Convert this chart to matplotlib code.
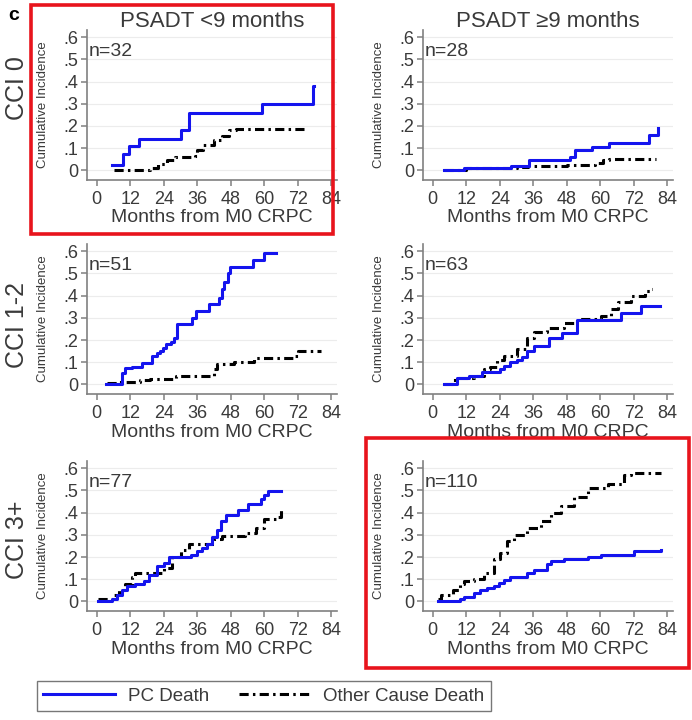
import matplotlib
matplotlib.use("Agg")
import matplotlib.pyplot as plt
from matplotlib.patches import Rectangle

plt.rcParams['font.family'] = ['Liberation Sans', 'DejaVu Sans']

# step curves: (months, cumulative incidence)
# top row: CCI 0
pc_t_00 = [5.5, 9.5, 11.5, 15, 30, 33, 59, 77.5, 77.6]
pc_v_00 = [0.025, 0.075, 0.11, 0.14, 0.18, 0.26, 0.30, 0.38, 0.38]
oc_t_00 = [6, 19, 22, 25, 28, 35, 36, 38, 42, 45, 47.5, 50, 75.5]
oc_v_00 = [0.0, 0.01, 0.03, 0.045, 0.06, 0.065, 0.09, 0.115, 0.135, 0.155, 0.18, 0.185, 0.185]

pc_t_01 = [4, 11, 28, 34.5, 49, 51, 57, 63, 77.5, 80.5, 80.6]
pc_v_01 = [0.0, 0.01, 0.02, 0.045, 0.06, 0.09, 0.105, 0.125, 0.16, 0.19, 0.19]
oc_t_01 = [4, 12, 30, 34, 48, 58, 61, 63, 80]
oc_v_01 = [0.0, 0.01, 0.015, 0.02, 0.025, 0.035, 0.045, 0.05, 0.05]

# middle row: CCI 1-2
pc_t_10 = [3.4, 9, 10.2, 12.6, 16.2, 19.8, 21.6, 22.6, 23.8, 24.8, 26.4, 27.6, 28.8,
           34.2, 35.4, 40.2, 43.8, 45, 45.6, 46.8, 47.8, 55.8, 60, 64.2]
pc_v_10 = [0.0, 0.053, 0.076, 0.08, 0.095, 0.13, 0.14, 0.15, 0.165, 0.18, 0.19, 0.21, 0.27,
           0.30, 0.33, 0.36, 0.39, 0.43, 0.46, 0.50, 0.53, 0.56, 0.59, 0.59]
oc_t_10 = [3.5, 8, 15.6, 19.2, 28.2, 40.8, 42, 43.2, 49, 56.4, 70.8, 72, 80.4]
oc_v_10 = [0.008, 0.01, 0.02, 0.025, 0.04, 0.04, 0.07, 0.09, 0.10, 0.12, 0.13, 0.15, 0.15]

pc_t_11 = [4, 8.6, 12.8, 17.6, 24.2, 25.4, 27.8, 30.2, 32, 33.8, 36.2, 41.6, 46.4, 51.8,
           67.4, 74.6, 81.2]
pc_v_11 = [0.0, 0.03, 0.04, 0.055, 0.07, 0.085, 0.10, 0.11, 0.125, 0.15, 0.175, 0.21, 0.23, 0.29,
           0.32, 0.355, 0.355]
oc_t_11 = [4, 7.4, 9, 14.6, 18.2, 20.6, 23, 25.4, 30.2, 33.8, 36.2, 41, 47, 51.8, 60.2,
           63.8, 66.2, 71, 75.8, 78.2, 78.6]
oc_v_11 = [0.0, 0.02, 0.03, 0.04, 0.07, 0.08, 0.11, 0.13, 0.16, 0.21, 0.235, 0.255, 0.275,
           0.295, 0.31, 0.34, 0.37, 0.40, 0.42, 0.43, 0.43]

# bottom row: CCI 3+
pc_t_20 = [0.6, 5.4, 7.2, 9, 10.8, 13.8, 16.8, 18.6, 21.6, 24, 25.8, 33.6, 36, 37.8, 39.6,
           41.4, 43.2, 44.4, 46.2, 50.4, 54, 58.8, 60, 61.2, 65.8]
pc_v_20 = [0.0, 0.01, 0.03, 0.05, 0.07, 0.08, 0.09, 0.12, 0.16, 0.175, 0.20, 0.21, 0.225, 0.24,
           0.26, 0.29, 0.32, 0.36, 0.39, 0.41, 0.44, 0.46, 0.48, 0.495, 0.495]
oc_t_20 = [0.6, 6, 7.8, 10.2, 12.6, 13.8, 24, 27, 30, 33, 42, 45, 53, 57, 60, 64, 65.8]
oc_v_20 = [0.01, 0.03, 0.05, 0.08, 0.11, 0.13, 0.15, 0.20, 0.23, 0.26, 0.28, 0.295, 0.31, 0.33,
           0.37, 0.38, 0.42]

pc_t_21 = [2, 9.8, 11, 14.6, 17, 19.4, 21.8, 23.6, 25.4, 27.8, 33.8, 36.2, 41, 42.2, 47,
           55.4, 60.2, 72.2, 81.8]
pc_v_21 = [0.0, 0.01, 0.02, 0.04, 0.05, 0.06, 0.07, 0.085, 0.095, 0.11, 0.13, 0.14, 0.17, 0.18,
           0.19, 0.20, 0.21, 0.225, 0.23]
oc_t_21 = [2, 3, 7.4, 9.8, 11, 14.6, 18.2, 21.8, 24.2, 26.6, 29, 33.8, 38.6, 42.2, 45.8,
           50.6, 55.4, 62.6, 68.6, 71, 81.8]
oc_v_21 = [0.01, 0.03, 0.05, 0.08, 0.09, 0.10, 0.13, 0.19, 0.22, 0.27, 0.30, 0.33, 0.36, 0.40,
           0.43, 0.47, 0.51, 0.53, 0.57, 0.58, 0.58]

panels = [
    [(pc_t_00, pc_v_00, oc_t_00, oc_v_00, "n=32"), (pc_t_01, pc_v_01, oc_t_01, oc_v_01, "n=28")],
    [(pc_t_10, pc_v_10, oc_t_10, oc_v_10, "n=51"), (pc_t_11, pc_v_11, oc_t_11, oc_v_11, "n=63")],
    [(pc_t_20, pc_v_20, oc_t_20, oc_v_20, "n=77"), (pc_t_21, pc_v_21, oc_t_21, oc_v_21, "n=110")],
]
col_titles = ["PSADT <9 months", "PSADT \u22659 months"]
row_labels = ["CCI 0", "CCI 1-2", "CCI 3+"]
xticks = [0, 12, 24, 36, 48, 60, 72, 84]
yticks = [0, 0.1, 0.2, 0.3, 0.4, 0.5, 0.6]
yticklabels = ["0", ".1", ".2", ".3", ".4", ".5", ".6"]

W, H = 692, 720
fig = plt.figure(figsize=(6.92, 7.2), dpi=100)

col_left = [87 / W, 423 / W]
col_w = 250 / W
row_bottom = [1 - 180 / H, 1 - 394 / H, 1 - 611 / H]
row_h = 150 / H

txt = "#3a3a3a"
spine_c = "#808080"
blue = "#1414ee"
dashdot = (0, (3, 1.4, 0.8, 1.4))

axes = []
for r in range(3):
    for c in range(2):
        pc_t, pc_v, oc_t, oc_v, n_lab = panels[r][c]
        ax = fig.add_axes([col_left[c], row_bottom[r], col_w, row_h])
        for y in yticks:
            ax.axhline(y, color="#ececec", lw=0.8, zorder=0)
        ax.plot(oc_t, oc_v, drawstyle="steps-post", color="black", lw=2.2,
                linestyle=dashdot, zorder=2)
        ax.plot(pc_t, pc_v, drawstyle="steps-post", color=blue, lw=2.2, zorder=3)
        ax.set_xlim(-3.5, 86)
        ax.set_ylim(-0.043, 0.632)
        ax.set_xticks(xticks)
        ax.set_yticks(yticks)
        ax.set_yticklabels(yticklabels)
        for s in ["top", "right"]:
            ax.spines[s].set_visible(False)
        for s in ["left", "bottom"]:
            ax.spines[s].set_color(spine_c)
            ax.spines[s].set_linewidth(1.2)
        ax.tick_params(colors=spine_c, labelcolor=txt, labelsize=13, length=4,
                       width=1.1, pad=2)
        ax.tick_params(axis="x", pad=4)
        ax.set_xlabel("Months from M0 CRPC", fontsize=14, color=txt, labelpad=1)
        ax.set_ylabel("Cumulative Incidence", fontsize=9.5, color=txt)
        ax.yaxis.set_label_coords(-0.15, 0.5)
        ax.text(0.005, 0.855, n_lab, transform=ax.transAxes, fontsize=14,
                color=txt, va="center", ha="left")
        if r == 0:
            ax.text(0.5, 1.02, col_titles[c], transform=ax.transAxes, fontsize=16,
                    color=txt, ha="center", va="baseline")
        axes.append(ax)

row_label_y = [88, 325, 540]
for r in range(3):
    fig.text(17 / W, 1 - row_label_y[r] / H, row_labels[r], rotation=90,
             fontsize=18, color=txt, ha="center", va="center")

fig.text(8 / W, 1 - 15 / H, "c", fontsize=14, fontweight="bold", color="black",
         ha="left", va="center")

red = "#e8141c"
fig.patches.append(Rectangle((31 / W, 1 - 234 / H), 302 / W, 229 / H, fill=False,
                             edgecolor=red, lw=2.6, transform=fig.transFigure))
fig.patches.append(Rectangle((366 / W, 1 - 668 / H), 323 / W, 230 / H, fill=False,
                             edgecolor=red, lw=2.6, transform=fig.transFigure))

h_pc, = axes[0].plot([], [], color=blue, lw=2.2)
h_oc, = axes[0].plot([], [], color="black", lw=2.2, linestyle=dashdot)
leg = fig.legend([h_pc, h_oc], ["PC Death", "Other Cause Death"], ncol=2,
                 loc="center", bbox_to_anchor=(264 / W, 1 - 696 / H), fontsize=13.5,
                 frameon=True, fancybox=False, edgecolor="#555555",
                 handlelength=3.8, columnspacing=1.6, handletextpad=0.7,
                 borderpad=0.35)
leg.get_frame().set_linewidth(1.0)
for t in leg.get_texts():
    t.set_color(txt)

fig.savefig("out.png", dpi=100)
